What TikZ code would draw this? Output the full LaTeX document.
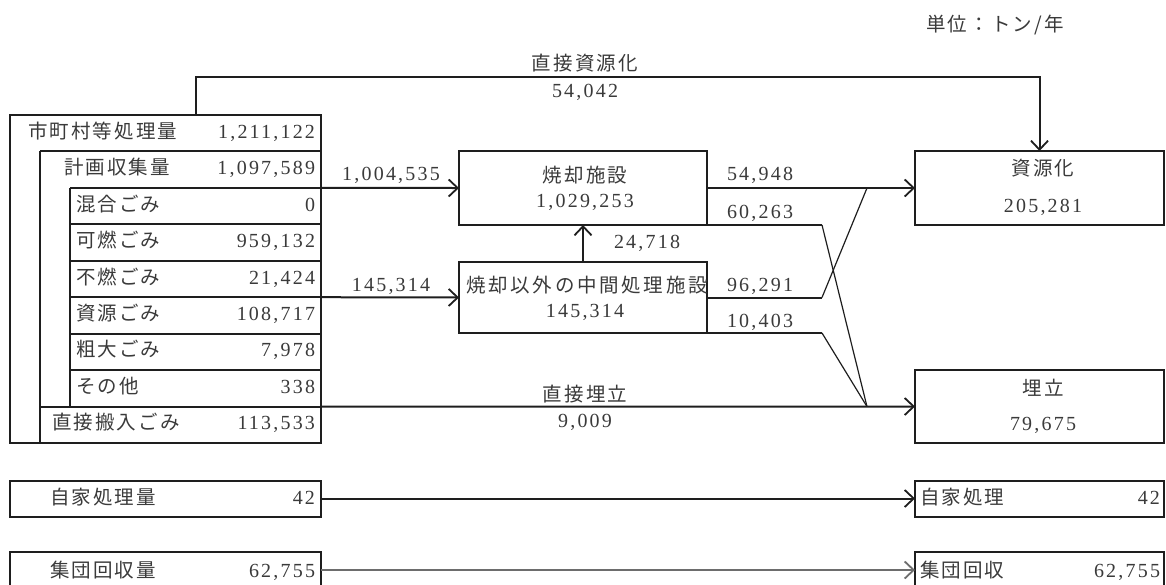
\documentclass[tikz,border=0pt]{standalone}
\usepackage{fontspec}
\setmainfont{Liberation Serif}[LetterSpace=11]
\newfontfamily\jp{Noto Sans CJK JP}[LetterSpace=11]
\newfontfamily\jpw{Noto Sans CJK JP}[LetterSpace=14]
\usetikzlibrary{arrows.meta}
\definecolor{txt}{HTML}{3A3A3A}
\definecolor{ln}{HTML}{1E1E1E}
\begin{document}
\begin{tikzpicture}[x=1pt,y=-1pt,
  every node/.style={inner sep=0pt, outer sep=0pt, text=txt},
  num/.style={font=\fontsize{20}{24}\selectfont, text height=14pt, text depth=4pt},
  jpt/.style={font=\jp\fontsize{19.5}{24}\selectfont, text height=14pt, text depth=4pt},
  jpwide/.style={font=\jpw\fontsize{19.5}{24}\selectfont, text height=14pt, text depth=4pt},
  box/.style={draw=ln, line width=2pt},
  tline/.style={draw=ln, line width=2pt},
  arr/.style={draw=ln, line width=2pt, -{Straight Barb[length=9pt,width=17pt,line width=1.8pt]}},
  thin/.style={draw=ln, line width=1.2pt}
]
\useasboundingbox (0,0) rectangle (1166,584);

% header
\node[jpt] (unit) at (995,26) {単位：トン/年};

% ---------- left table ----------
\node[box, minimum width=311pt, minimum height=328pt] (total) at (165.5,279) {};
\draw[tline] (40,151.4) -- (321,151.4);
\draw[tline] (40,151.4) -- (40,443);
\draw[tline] (70,187.9) -- (321,187.9);
\draw[tline] (70,187.9) -- (70,406.6);
\foreach \yy in {224.3,260.8,297.2,333.7,370.1}{\draw[tline] (70,\yy) -- (321,\yy);}
\draw[tline] (40,406.6) -- (321,406.6);

\node[jpt, anchor=west] (l1) at (28,133.2) {市町村等処理量};
\node[num, anchor=east] (v1) at (315,133.2) {1,211,122};
\node[jpt, anchor=west] (l2) at (64,169.6) {計画収集量};
\node[num, anchor=east] (v2) at (315,169.6) {1,097,589};
\node[jpt, anchor=west] (l3) at (76,206.1) {混合ごみ};
\node[num, anchor=east] (v3) at (315,206.1) {0};
\node[jpt, anchor=west] (l4) at (76,242.5) {可燃ごみ};
\node[num, anchor=east] (v4) at (315,242.5) {959,132};
\node[jpt, anchor=west] (l5) at (76,279) {不燃ごみ};
\node[num, anchor=east] (v5) at (315,279) {21,424};
\node[jpt, anchor=west] (l6) at (76,315.4) {資源ごみ};
\node[num, anchor=east] (v6) at (315,315.4) {108,717};
\node[jpt, anchor=west] (l7) at (76,351.9) {粗大ごみ};
\node[num, anchor=east] (v7) at (315,351.9) {7,978};
\node[jpt, anchor=west] (l8) at (76,388.3) {その他};
\node[num, anchor=east] (v8) at (315,388.3) {338};
\node[jpt, anchor=west] (l9) at (52,424.8) {直接搬入ごみ};
\node[num, anchor=east] (v9) at (315,424.8) {113,533};

% source coordinates on the table edge
\coordinate (sInc) at (321,187.9);
\coordinate (sMid) at (321,297.2);
\coordinate (sLand) at (321,406.6);
\coordinate (sDir) at (196,115);

% ---------- middle boxes ----------
\node[box, minimum width=248pt, minimum height=74pt] (burn) at (583,188) {};
\node[jpt] (burnT) at (585,177) {焼却施設};
\node[num] (burnV) at (585,202) {1,029,253};

\node[box, minimum width=248pt, minimum height=71pt] (mid) at (583,297.5) {};
\node[jpwide] (midT) at (587,287) {焼却以外の中間処理施設};
\node[num] (midV) at (585,312) {145,314};

% ---------- right boxes ----------
\node[box, minimum width=249pt, minimum height=74pt] (res) at (1039.5,188) {};
\node[jpt] (resT) at (1043,170) {資源化};
\node[num] (resV) at (1043,207) {205,281};

\node[box, minimum width=249pt, minimum height=73pt] (land) at (1039.5,406.5) {};
\node[jpt] (landT) at (1043,390) {埋立};
\node[num] (landV) at (1043,425) {79,675};

% ---------- bottom rows ----------
\node[box, minimum width=311pt, minimum height=36pt] (selfL) at (165.5,498.5) {};
\node[jpt, anchor=west] (selfLT) at (50,499) {自家処理量};
\node[num, anchor=east] (selfLV) at (315,499) {42};
\node[box, minimum width=249pt, minimum height=36pt] (selfR) at (1039.5,498.5) {};
\node[jpt, anchor=west] (selfRT) at (920,499) {自家処理};
\node[num, anchor=east] (selfRV) at (1160,499) {42};

\node[box, minimum width=311pt, minimum height=36pt] (grpL) at (165.5,570) {};
\node[jpt, anchor=west] (grpLT) at (50,572) {集団回収量};
\node[num, anchor=east] (grpLV) at (315,572) {62,755};
\node[box, minimum width=249pt, minimum height=36pt] (grpR) at (1039.5,570) {};
\node[jpt, anchor=west] (grpRT) at (920,572) {集団回収};
\node[num, anchor=east] (grpRV) at (1160,572) {62,755};

% ---------- connectors ----------
% direct recycling
\draw[arr] (sDir) -- ++(0,-38.5) -| (res.north);
\node[jpt] (dirT) at (585,65) {直接資源化};
\node[num] (dirV) at (585,92) {54,042};

% to incinerator
\draw[arr] (sInc) -- (burn.west);
\node[num] (incV) at (391,175) {1,004,535};
% to intermediate
\draw[arr] (sMid) -- (mid.west);
\node[num] (midInV) at (391,286) {145,314};
% intermediate -> incinerator
\draw[arr] (mid.north) -- (burn.south);
\node[num] (backV) at (647,243) {24,718};
% direct landfill
\draw[arr] (sLand) -- (land.west);
\node[jpt] (dlT) at (585,396) {直接埋立};
\node[num] (dlV) at (585,422) {9,009};

% incinerator -> recycling
\draw[arr] (burn.east) -- (res.west);
\node[num] (o1) at (760,175) {54,948};
% incinerator residue -> landfill
\coordinate (k1) at (822,225);
\coordinate (jL) at (867,406.6);
\coordinate (jR) at (867,188);
\draw[tline] (burn.south east) -- (k1);
\draw[thin] (k1) -- (jL);
\node[num] (o2) at (760,213) {60,263};
% intermediate -> recycling
\coordinate (k2) at (822,297.5);
\draw[tline] (mid.east) -- (k2);
\draw[thin] (k2) -- (jR);
\node[num] (o3) at (760,286) {96,291};
% intermediate -> landfill
\coordinate (k3) at (822,333);
\draw[tline] (mid.south east) -- (k3);
\draw[thin] (k3) -- (jL);
\node[num] (o4) at (760,322) {10,403};

% self and group
\draw[arr] (selfL.east) -- (selfR.west);
\draw[arr, draw=ln!65, line width=1.4pt] (grpL.east) -- (grpR.west);
\end{tikzpicture}
\end{document}
